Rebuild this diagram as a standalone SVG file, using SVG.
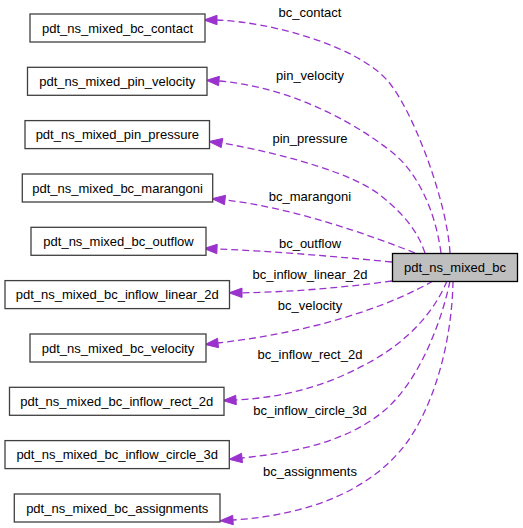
<svg xmlns="http://www.w3.org/2000/svg" width="523" height="528" viewBox="0 0 523 528">
<style>
text{font-family:"Liberation Sans",Arial,sans-serif;font-size:13px;fill:#000;text-anchor:middle}
.n rect{fill:#fff;stroke:#404040;stroke-width:1.3}
.main rect{fill:#bfbfbf;stroke:#000;stroke-width:1.3}
.e path{fill:none;stroke:#9a32cd;stroke-width:1.3;stroke-dasharray:7,4}
.e polygon{fill:#9a32cd;stroke:#9a32cd;stroke-width:1}
</style>
<rect width="523" height="528" fill="#fff"/>
<g id="connectors" class="e">
<path d="M450,253 C447,200 412,108 387,80 C355,45 270,22 217,20"/>
<polygon points="204,20 217,15.3 217,24.7"/>
<text x="310" y="16.5">bc_contact</text>
<path d="M441,253 C436,215 420,175 393,153 C366,131 300,88 219,81"/>
<polygon points="206.5,80.3 219.4,76.3 218.6,85.7"/>
<text x="310" y="80">pin_velocity</text>
<path d="M425,253 C418,232 405,215 380,195 C355,175 290,155 222,143"/>
<polygon points="209,141.5 222.8,138.4 221.2,147.6"/>
<text x="310" y="142.5">pin_pressure</text>
<path d="M415,253 C370,235 290,207 225,200"/>
<polygon points="212,198.7 225.5,195.3 224.5,204.7"/>
<text x="310" y="201">bc_marangoni</text>
<path d="M392,262 C330,256 270,251 217,249"/>
<polygon points="204,248.5 217.2,244.3 216.8,253.7"/>
<text x="310" y="247.6">bc_outflow</text>
<path d="M392,281 C340,288 290,292 242,292.8"/>
<polygon points="229,292.8 242,288.1 242,297.5"/>
<text x="310" y="278.6">bc_inflow_linear_2d</text>
<path d="M433,281 C400,300 330,330 218,343"/>
<polygon points="205.1,344.5 218.5,347.7 217.5,338.3"/>
<text x="310" y="310">bc_velocity</text>
<path d="M447,281 C435,310 410,340 370,362 C330,384 290,397 236,400"/>
<polygon points="223,400.6 236.3,404.7 235.7,395.3"/>
<text x="310" y="358.6">bc_inflow_rect_2d</text>
<path d="M450,281 C442,320 420,380 385,410 C350,440 300,452 242,458"/>
<polygon points="229.1,459.3 242.5,462.7 241.5,453.3"/>
<text x="310" y="415.3">bc_inflow_circle_3d</text>
<path d="M453,281 C452,340 435,405 405,445 C370,490 310,515 233,520"/>
<polygon points="220,520.8 233.3,524.7 232.7,515.3"/>
<text x="310" y="476">bc_assignments</text>
</g>
<g id="pdt_ns_mixed_bc" class="main"><rect x="392.5" y="253.5" width="125" height="28"/><text x="455" y="272">pdt_ns_mixed_bc</text></g>
<g id="pdt_ns_mixed_bc_contact" class="n"><rect x="30" y="14" width="175" height="28"/><text x="117.5" y="32.8">pdt_ns_mixed_bc_contact</text></g>
<g id="pdt_ns_mixed_pin_velocity" class="n"><rect x="27.5" y="67.3" width="179.5" height="28"/><text x="117.3" y="86.1">pdt_ns_mixed_pin_velocity</text></g>
<g id="pdt_ns_mixed_pin_pressure" class="n"><rect x="25" y="120.6" width="184.5" height="28"/><text x="117.3" y="139.4">pdt_ns_mixed_pin_pressure</text></g>
<g id="pdt_ns_mixed_bc_marangoni" class="n"><rect x="22.3" y="174" width="190.4" height="28"/><text x="117.5" y="192.8">pdt_ns_mixed_bc_marangoni</text></g>
<g id="pdt_ns_mixed_bc_outflow" class="n"><rect x="31" y="227.3" width="175" height="28"/><text x="118.5" y="246.1">pdt_ns_mixed_bc_outflow</text></g>
<g id="pdt_ns_mixed_bc_inflow_linear_2d" class="n"><rect x="5" y="280.6" width="224.5" height="28"/><text x="117.3" y="299.4">pdt_ns_mixed_bc_inflow_linear_2d</text></g>
<g id="pdt_ns_mixed_bc_velocity" class="n"><rect x="30" y="334" width="176" height="28"/><text x="118" y="352.8">pdt_ns_mixed_bc_velocity</text></g>
<g id="pdt_ns_mixed_bc_inflow_rect_2d" class="n"><rect x="9.5" y="387.3" width="214.5" height="28"/><text x="116.8" y="406.1">pdt_ns_mixed_bc_inflow_rect_2d</text></g>
<g id="pdt_ns_mixed_bc_inflow_circle_3d" class="n"><rect x="5" y="440.6" width="224.3" height="28"/><text x="117.2" y="459.4">pdt_ns_mixed_bc_inflow_circle_3d</text></g>
<g id="pdt_ns_mixed_bc_assignments" class="n"><rect x="14.3" y="494" width="205.7" height="28"/><text x="117.2" y="512.8">pdt_ns_mixed_bc_assignments</text></g>
</svg>
